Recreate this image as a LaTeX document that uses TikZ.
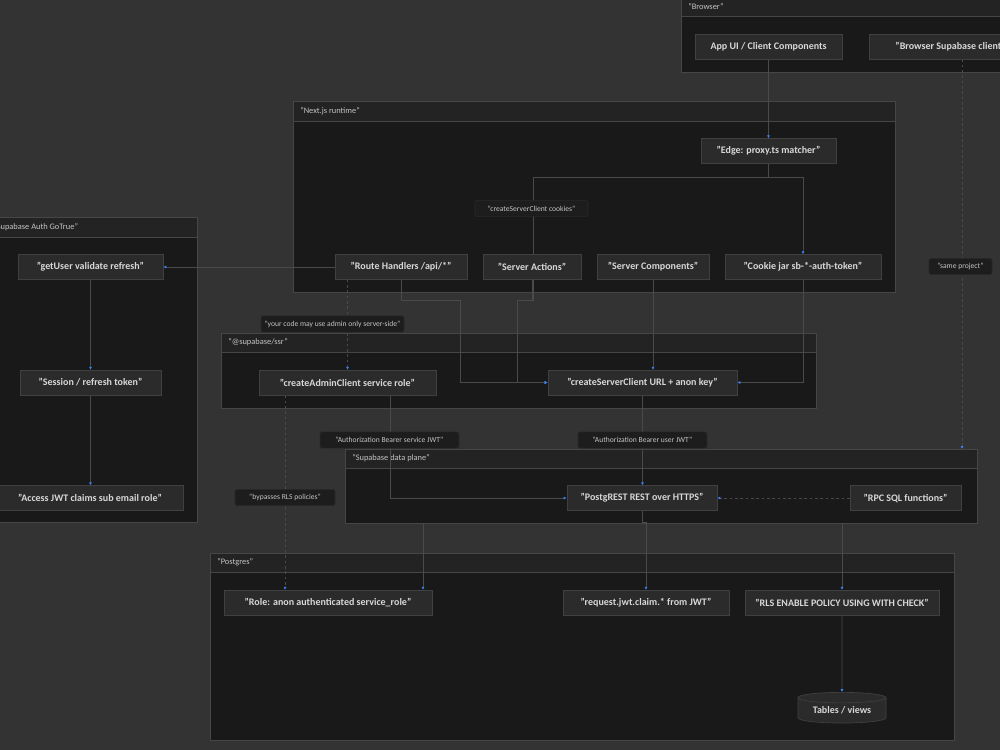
\documentclass[tikz,border=0pt]{standalone}
\usepackage{fontspec}
\setmainfont{Carlito}
\usetikzlibrary{arrows.meta,shapes.geometric,calc}
\definecolor{bg}{HTML}{333333}
\definecolor{clfill}{HTML}{191919}
\definecolor{clband}{HTML}{232323}
\definecolor{clline}{HTML}{464646}
\definecolor{nfill}{HTML}{2B2B2B}
\definecolor{nline}{HTML}{404040}
\definecolor{ntext}{HTML}{D8D8D8}
\definecolor{lfill}{HTML}{1D1D1D}
\definecolor{lline}{HTML}{2A2A2A}
\definecolor{ltext}{HTML}{C4C4C4}
\definecolor{eline}{HTML}{4A4A4A}
\definecolor{tipc}{HTML}{3B82F6}
\pgfdeclarelayer{clusters}
\pgfdeclarelayer{edges}
\pgfsetlayers{clusters,edges,main}
\tikzset{
  box/.style={draw=nline, fill=nfill, line width=0.5pt, text=ntext,
    font=\fontsize{7.5}{8.5}\selectfont\bfseries, minimum height=18.5pt, inner sep=0pt},
  wd/.style={minimum width=#1*0.75pt},
  lbl/.style={fill=lfill, draw=lline, line width=0.4pt, rounded corners=1.5pt, text=ltext,
    font=\fontsize{5.7}{6.5}\selectfont, minimum height=12.2pt, inner sep=0pt},
  ctitle/.style={anchor=west, text=ltext, font=\fontsize{6.3}{7}\selectfont, inner sep=0pt},
  conn/.style={draw=eline, line width=0.5pt, -{Latex[length=2.2pt,width=2.2pt,color=tipc]}},
  dconn/.style={conn, dash pattern=on 2pt off 2pt},
}
\newcommand\mycluster[6]{%
  \fill[clfill] (#1,#2) rectangle (#3,#4);
  \fill[clband] (#1,#2) rectangle (#3,#5);
  \draw[clline, line width=0.6pt] (#1,#5) -- (#3,#5);
  \draw[clline, line width=0.75pt] (#1,#2) rectangle (#3,#4);
  \node[ctitle] at ({#1+7},{(#2+#5)/2}) {#6};
}
\begin{document}
\begin{tikzpicture}[x=0.75pt,y=-0.75pt]
\useasboundingbox (0,0) rectangle (1000,750);
\begin{pgfonlayer}{clusters}
  \fill[bg] (-50,-50) rectangle (1100,800);
  \mycluster{681}{-3}{1100}{72}{16}{"Browser"}
  \mycluster{293}{101}{895}{292}{121}{"Next.js runtime"}
  \mycluster{-40}{217}{197}{522}{237}{}
  \node[ctitle] at (-7,227) {"Supabase Auth GoTrue"};
  \mycluster{221}{333}{816}{408}{352}{"@supabase/ssr"}
  \mycluster{345}{449}{977}{523}{468}{"Supabase data plane"}
  \mycluster{210}{553}{954}{740}{572}{"Postgres"}
\end{pgfonlayer}

% nodes
\node[box,wd=147] (ui) at (768.5,46.5) {App UI / Client Components};
\node[box,wd=200] (bc) at (969,46.5) {"Browser Supabase client optional"};

\node[box,wd=135] (mw) at (768.5,151) {"Edge: proxy.ts matcher"};
\node[box,wd=132] (rh) at (401,267) {"Route Handlers /api/*"};
\node[box,wd=98]  (sa) at (532,267) {"Server Actions"};
\node[box,wd=112] (sc) at (653,267) {"Server Components"};
\node[box,wd=156] (cj) at (803,267) {"Cookie jar sb-*-auth-token"};

\node[box,wd=145] (gu) at (90.5,267) {"getUser validate refresh"};
\node[box,wd=141] (ses) at (90.5,382.5) {"Session / refresh token"};
\node[box,wd=186] (jwt) at (90,498) {"Access JWT claims sub email role"};

\node[box,wd=177] (adm) at (347.5,382.5) {"createAdminClient service role"};
\node[box,wd=189] (scc) at (642.5,382.5) {"createServerClient URL + anon key"};

\node[box,wd=150] (pr) at (642,498) {"PostgREST REST over HTTPS"};
\node[box,wd=111] (rpc) at (905.5,498) {"RPC SQL functions"};

\node[box,wd=208] (role) at (328,602.5) {"Role: anon authenticated service\_role"};
\node[box,wd=166] (claims) at (646,602.5) {"request.jwt.claim.* from JWT"};
\node[box,wd=194] (rls) at (842,602.5) {"RLS ENABLE POLICY USING WITH CHECK"};
\node[box,cylinder,shape border rotate=90,aspect=0.18,minimum width=66pt,minimum height=23pt,
  cylinder uses custom fill, cylinder body fill=nfill, cylinder end fill=nfill] (tables) at (842,710.5) {Tables / views};

\coordinate (dataBot) at (842,523);
\coordinate (dataBotL) at (423,523);
\coordinate (dataTop) at (962,449);

% connectors
\begin{pgfonlayer}{edges}
  \draw[conn] (ui.south) -- (mw.north);
  \draw[conn] (mw.south) -- ++(0,14) -| (cj.north);
  \draw[conn] (mw.south) -- (768.5,177) -- (533,177) -- (533,300) -- (517,300) -- (517,382.5) -- (scc.west);
  \draw[conn] (sa.south) -- (532,300) -- (517,300) -- (517,382.5) -- (scc.west);
  \draw[conn] (rh.south) -- (401,300) -- (460,300) -- (460,382.5) -- (scc.west);
  \draw[conn] (sc.south) -- (sc.south |- scc.north);
  \draw[conn] (cj.south) |- (scc.east);
  \draw[dconn] (rh.south -| adm.north) -- (adm.north);
  \draw[conn] (rh.west) -- (gu.east);
  \draw[conn] (gu.south) -- (ses.north);
  \draw[conn] (ses.south) -- (ses.south |- jwt.north);
  \draw[conn] ($(adm.south)+(42.5,0)$) |- (pr.west);
  \draw[conn] (scc.south) -- (scc.south |- pr.north);
  \draw[dconn] (rpc.west) -- (pr.east);
  \draw[conn] (pr.south) -- ++(0,12) -| (claims.north);
  \draw[conn] (dataBot) -- (rls.north);
  \draw[conn] (rls.south) -- (tables.north);
  \draw[dconn] ($(adm.south)+(-62.5,0)$) coordinate (bpA) -- (bpA |- role.north);
  \draw[conn] (dataBotL) -- (dataBotL |- role.north);
  \draw[dconn] ($(bc.south)+(-7,0)$) -- (dataTop);
\end{pgfonlayer}

% edge labels
\node[lbl,wd=113] (l1) at (531.5,208.5) {"createServerClient cookies"};
\node[lbl,wd=143] (l2) at (332.5,324) {"your code may use admin only server-side"};
\node[lbl,wd=139] (l3) at (389.5,440) {"Authorization Bearer service JWT"};
\node[lbl,wd=129] (l4) at (642.5,440) {"Authorization Bearer user JWT"};
\node[lbl,wd=100] (l5) at (285,497.5) {"bypasses RLS policies"};
\node[lbl,wd=63]  (l6) at (960.5,266.5) {"same project"};
\end{tikzpicture}
\end{document}
